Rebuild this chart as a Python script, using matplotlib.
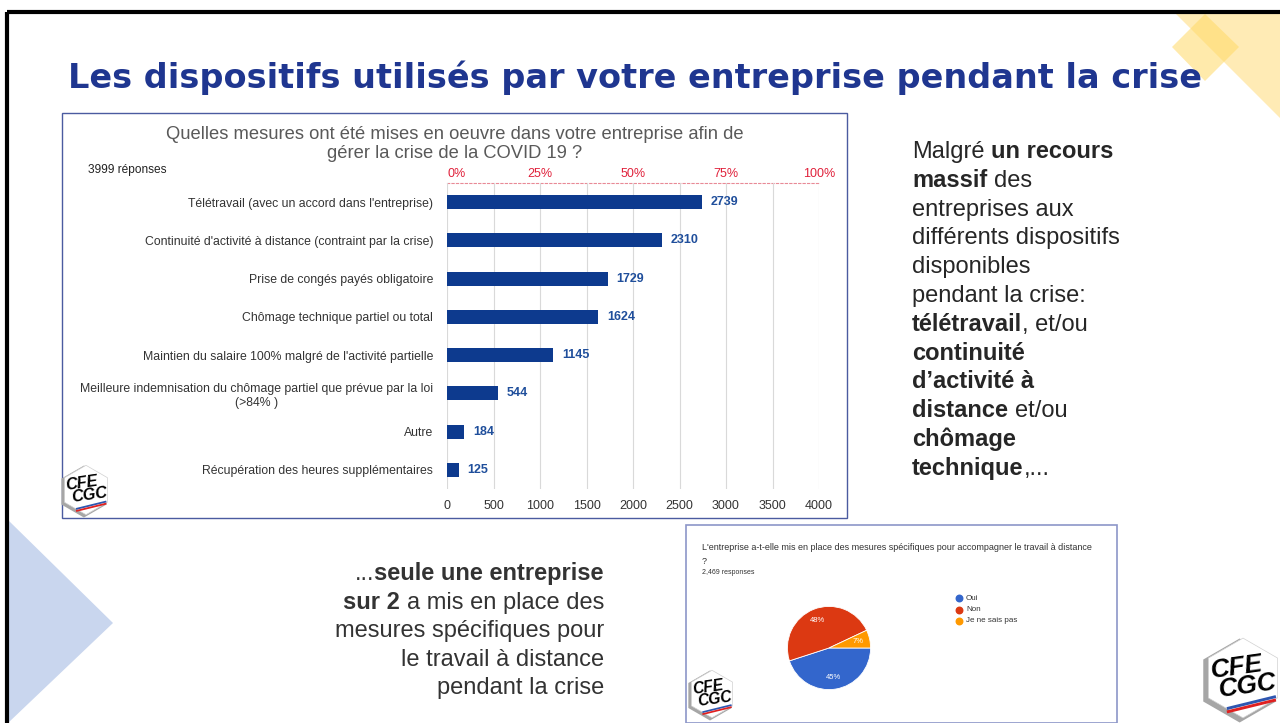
import matplotlib
matplotlib.use('Agg')
import matplotlib.pyplot as plt
from matplotlib.patches import Polygon, RegularPolygon
import numpy as np

plt.rcParams['font.family'] = ['Liberation Sans', 'DejaVu Sans']

# Bar chart data
categories = ['Télétravail (avec un accord dans l\'entreprise)',
              'Continuité d\'activité à distance (contraint par la crise)',
              'Prise de congés payés obligatoire',
              'Chômage technique partiel ou total',
              'Maintien du salaire 100% malgré de l\'activité partielle',
              'Meilleure indemnisation du chômage partiel que prévue par la loi\n(>84% )',
              'Autre',
              'Récupération des heures supplémentaires']
counts = [2739, 2310, 1729, 1624, 1145, 544, 184, 125]
x_ticks = [0, 500, 1000, 1500, 2000, 2500, 3000, 3500, 4000]
pct_ticks = [0, 25, 50, 75, 100]

# Pie chart data
pie_labels = ['Oui', 'Non', 'Je ne sais pas']
pie_values = [45, 48, 7]
pie_colors = ['#3366CC', '#DC3912', '#FF9900']

W, H = 1280, 723
fig = plt.figure(figsize=(12.8, 7.23), dpi=100)
fig.patch.set_facecolor('white')

# background axes in pixel coordinates (y downwards)
bg = fig.add_axes([0, 0, 1, 1])
bg.set_xlim(0, W)
bg.set_ylim(H, 0)
bg.axis('off')

# slide frame
bg.plot([7, W], [12, 12], color='black', lw=3, solid_capstyle='butt')
bg.plot([7, 7], [12, H], color='black', lw=3, solid_capstyle='butt')

# decorations
bg.add_patch(Polygon([(1175, 13), (W, 13), (W, 118)], closed=True, fc='#FFEBB5', ec='none'))
bg.add_patch(Polygon([(1172, 47), (1205, 14), (1239, 47), (1205, 81)], closed=True,
                     fc='#FFD966', ec='none', alpha=0.55))
bg.add_patch(Polygon([(8, 520), (113, 623), (8, H)], closed=True, fc='#C9D6EE', ec='none'))

# title
bg.text(68, 78, 'Les dispositifs utilisés par votre entreprise pendant la crise',
        fontsize=24.1, fontweight='bold', color='#1F3690', va='center', ha='left',
        family='DejaVu Sans')

# panel boxes
bg.add_patch(plt.Rectangle((62, 113), 785, 405, fill=False, ec='#4B5BA0', lw=1))
bg.add_patch(plt.Rectangle((686, 525), 431, 198, fill=False, ec='#8C96C8', lw=1.2))

bg.text(455, 144, 'Quelles mesures ont été mises en oeuvre dans votre entreprise afin de\ngérer la crise de la COVID 19 ?',
        fontsize=13.2, color='#595959', ha='center', va='center', linespacing=1.15)
bg.text(88, 170, '3999 réponses', fontsize=8.6, color='#222222', ha='left', va='center')


def draw_logo(cx, cy, r):
    bg.add_patch(RegularPolygon((cx - r * 0.08, cy + r * 0.06), 6, radius=r, orientation=0,
                                fc='#A6A6A6', ec='none'))
    bg.add_patch(RegularPolygon((cx, cy), 6, radius=r * 0.95, orientation=0,
                                fc='white', ec='#D0D0D0', lw=0.5))
    fs = r * 0.45
    bg.text(cx - r * 0.15, cy - r * 0.25, 'CFE', fontsize=fs, fontweight='bold', style='italic',
            ha='center', va='center', rotation=8, color='black')
    bg.text(cx + r * 0.12, cy + r * 0.2, 'CGC', fontsize=fs, fontweight='bold', style='italic',
            ha='center', va='center', rotation=8, color='black')
    bg.plot([cx - r * 0.35, cx + r * 0.75], [cy + r * 0.72, cy + r * 0.45], color='#2E56B0', lw=r * 0.05)
    bg.plot([cx - r * 0.35, cx + r * 0.75], [cy + r * 0.8, cy + r * 0.53], color='#E02020', lw=r * 0.05)


draw_logo(86, 490, 26)
draw_logo(712, 694, 25)
draw_logo(1243, 678, 42)

# rich text helper
renderer = fig.canvas.get_renderer()


def text_width(s, fs, bold):
    t = bg.text(0, 0, s, fontsize=fs, fontweight='bold' if bold else 'normal')
    w = t.get_window_extent(renderer).width
    t.remove()
    return w


def rich_line(x, y, parts, fs, ha='left', color='#262626'):
    space = text_width('x x', fs, False) - text_width('xx', fs, False)
    widths = [text_width(s, fs, b) for s, b, sp in parts]
    total = sum(widths) + space * sum(1 for p in parts if p[2])
    pos = x if ha == 'left' else x - total
    for (s, b, sp), w in zip(parts, widths):
        bg.text(pos, y, s, fontsize=fs, fontweight='bold' if b else 'normal',
                ha='left', va='baseline', color=color)
        pos += w + (space if sp else 0)


right_lines = [
    [('Malgré', False, True), ('un recours', True, False)],
    [('massif', True, True), ('des', False, False)],
    [('entreprises aux', False, False)],
    [('différents dispositifs', False, False)],
    [('disponibles', False, False)],
    [('pendant la crise:', False, False)],
    [('télétravail', True, False), (', et/ou', False, False)],
    [('continuité', True, False)],
    [('d\u2019activité à', True, False)],
    [('distance', True, True), ('et/ou', False, False)],
    [('chômage', True, False)],
    [('technique', True, False), (',...', False, False)],
]
for i, parts in enumerate(right_lines):
    rich_line(912, 158 + i * 28.8, parts, 17)

low_lines = [
    [('...', False, False), ('seule une entreprise', True, False)],
    [('sur 2', True, True), ('a mis en place des', False, False)],
    [('mesures spécifiques pour', False, False)],
    [('le travail à distance', False, False)],
    [('pendant la crise', False, False)],
]
for i, parts in enumerate(low_lines):
    rich_line(604, 580 + i * 28.6, parts, 17, ha='right', color='#333333')

# bar chart
ax = fig.add_axes([447 / W, 1 - 489 / H, (819 - 447) / W, (489 - 183) / H])
y = np.arange(len(categories))
ax.barh(y, counts, height=0.37, color='#0D3A8E', zorder=3)
for yi, v in zip(y, counts):
    ax.text(v + 95, yi, str(v), fontsize=9, fontweight='bold', color='#1F4E9B',
            va='center', ha='left')
ax.set_ylim(len(categories) - 0.5, -0.5)
ax.set_xlim(0, 4000)
ax.set_yticks(y)
ax.set_yticklabels(categories, fontsize=8.8, color='#333333', multialignment='center')
ax.set_xticks(x_ticks)
ax.set_xticklabels([str(t) for t in x_ticks], fontsize=9, color='#333333')
ax.tick_params(axis='both', length=0)
ax.tick_params(axis='y', pad=10)
ax.tick_params(axis='x', pad=8)
ax.grid(axis='x', color='#D9D9D9', lw=0.8, zorder=0)
for s in ax.spines.values():
    s.set_visible(False)
ax.patch.set_alpha(0)

sec = ax.secondary_xaxis('top', functions=(lambda v: v / 40.0, lambda p: p * 40.0))
sec.set_xticks(pct_ticks)
sec.set_xticklabels([f'{p}%' for p in pct_ticks], fontsize=9, color='#E0203A')
sec.get_xticklabels()[0].set_ha('left')
sec.tick_params(length=0, pad=2)
sec.spines['top'].set_color('#E88A96')
sec.spines['top'].set_linestyle((0, (2, 2)))
sec.spines['top'].set_linewidth(0.8)

# pie chart panel
bg.text(702, 547, 'L\'entreprise a-t-elle mis en place des mesures spécifiques pour accompagner le travail à distance',
        fontsize=6.5, color='#333333', ha='left', va='center')
bg.text(702, 561, '?', fontsize=6.5, color='#333333', ha='left', va='center')
bg.text(702, 573, '2,469 responses', fontsize=5, color='#333333', ha='left', va='center')

r = 52
pax = fig.add_axes([(829 - r) / W, 1 - (648 + r) / H, 2 * r / W, 2 * r / H])
wedges, _, autotexts = pax.pie(pie_values, colors=pie_colors, startangle=0, counterclock=False,
                               autopct='%d%%', pctdistance=0.72,
                               wedgeprops=dict(edgecolor='white', linewidth=0.6))
for t in autotexts:
    t.set_color('white')
    t.set_fontsize(5.5)
pax.set_aspect('equal')

for i, (lab, col) in enumerate(zip(pie_labels, pie_colors)):
    yy = 598 + i * 11.5
    bg.scatter([959], [yy], s=22, color=col, zorder=5)
    bg.text(966, yy, lab, fontsize=5.8, color='#333333', ha='left', va='center')

fig.savefig('out.png', dpi=100, facecolor='white')
